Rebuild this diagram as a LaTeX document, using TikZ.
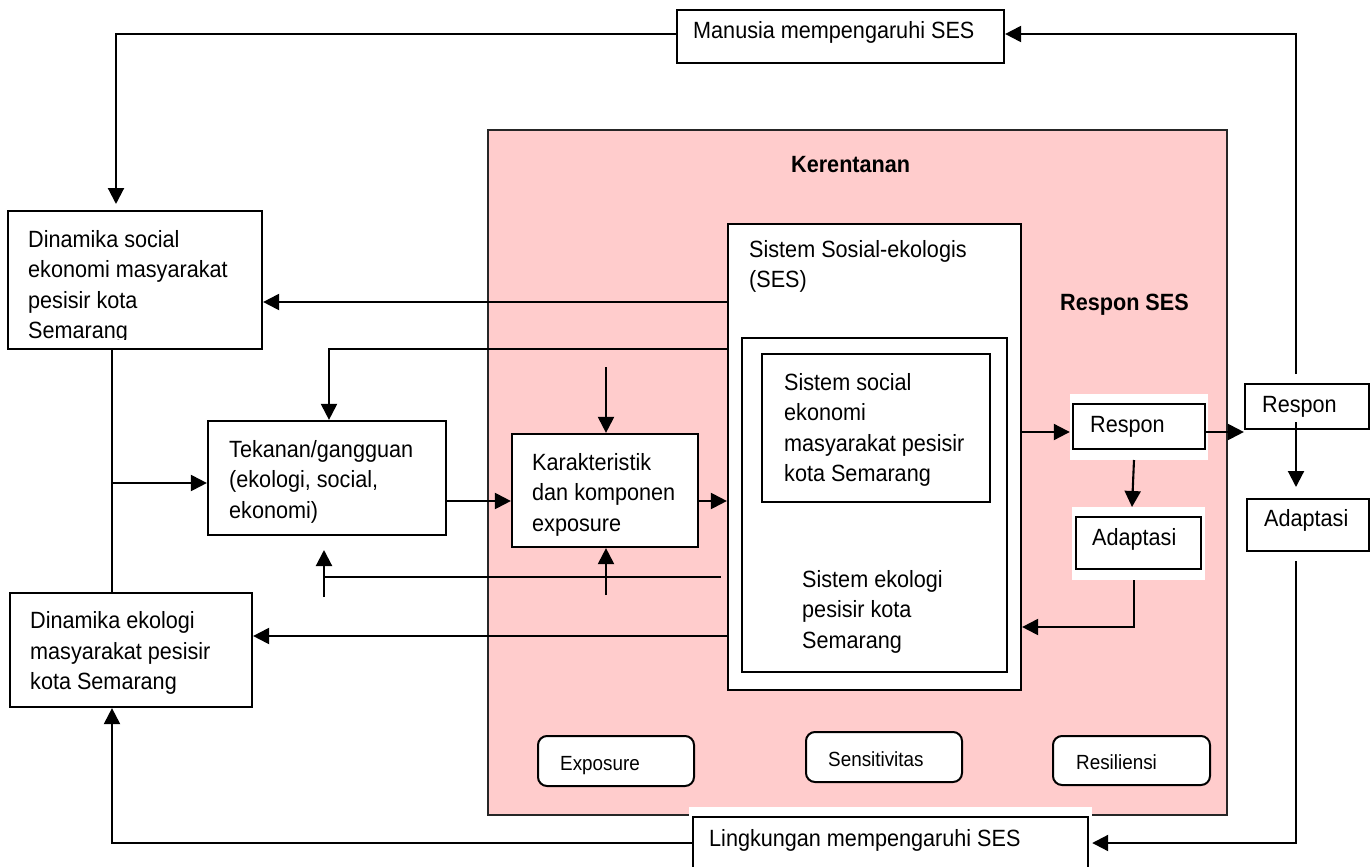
\documentclass[tikz,border=0pt]{standalone}
\usepackage{fontspec}
\setmainfont{Liberation Sans}[FakeStretch=0.92]
\usetikzlibrary{arrows.meta,calc,fit}
\definecolor{pinkbg}{RGB}{255,204,204}
% stacked lines whose reference point is the baseline of the first line
\newcommand\stackedlines[1]{\vtop{\halign{##\hfil\cr #1\crcr}}}
\begin{document}
\begin{tikzpicture}[x=1pt,y=-1pt,
  box/.style={draw=black, line width=2.2pt, fill=white, inner sep=0pt},
  halo/.style={fill=white, draw=none, inner sep=0pt},
  rbox/.style={box, rounded corners=9pt, line width=2pt},
  txt/.style={anchor=base west, inner sep=0pt,
    font=\fontsize{23.5}{30.5}\selectfont},
  small/.style={anchor=base west, inner sep=0pt,
    font=\fontsize{20.5}{24}\selectfont},
  bold/.style={anchor=base west, inner sep=0pt,
    font=\fontsize{23.5}{28}\selectfont\bfseries},
  ln/.style={line width=2.1pt},
  arr/.style={line width=2.1pt, -{Triangle[length=16pt,width=16pt]}},
]
\useasboundingbox (0,0) rectangle (1371,867);
\fill[white] (0,0) rectangle (1371,867);
\clip (0,0) rectangle (1371,867);

% vulnerability frame
\node[draw=black!85, line width=1.8pt, fill=pinkbg, inner sep=0pt,
      fit={(488,130) (1227,815)}] (ker) {};

% white halos behind some boxes
\node[halo, fit={(1070,394) (1208,460)}] (resph) {};
\node[halo, fit={(1072,507) (1205,580)}] (adaph) {};
\node[halo, fit={(689,807) (1092,880)}] (lih) {};

% boxes
\node[box, fit={(677,10) (1004,63)}] (top) {};
\node[box, fit={(8,211) (262,349)}] (ds) {};
\node[box, fit={(208,421) (446,535)}] (tk) {};
\node[box, fit={(512,434) (698,547)}] (ka) {};
\node[box, fit={(10,593) (252,707)}] (de) {};
\node[box, fit={(728,224) (1021,690)}] (ses) {};
\node[box, fit={(742,338) (1007,672)}] (inner) {};
\node[box, fit={(762,354) (990,502)}] (sos) {};
\node[box, fit={(1073,404) (1205,449)}] (resp) {};
\node[box, fit={(1076,517) (1201,569)}] (adap) {};
\node[box, fit={(1245,384) (1369,429)}] (rr) {};
\node[box, fit={(1247,499) (1369,551)}] (ra) {};
\node[box, fit={(693,817) (1088,890)}] (li) {};
\node[rbox, fit={(538,736) (694,786)}] (exp) {};
\node[rbox, fit={(806,732) (962,782)}] (sen) {};
\node[rbox, fit={(1053,736) (1210,785)}] (res) {};

% texts
\node[txt] at (693,39) {Manusia mempengaruhi SES};
\begin{scope}
  \clip (8,211) rectangle (262,339);
  \node[txt] at (28,247) {\stackedlines{Dinamika social\cr ekonomi masyarakat\cr pesisir kota\cr Semarang}};
\end{scope}
\node[txt] at (229,457) {\stackedlines{Tekanan/gangguan\cr (ekologi, social,\cr ekonomi)}};
\node[txt] at (532,470) {\stackedlines{Karakteristik\cr dan komponen\cr exposure}};
\node[txt] at (30,628.5) {\stackedlines{Dinamika ekologi\cr masyarakat pesisir\cr kota Semarang}};
\node[txt] at (749,257) {\stackedlines{Sistem Sosial-ekologis\cr (SES)}};
\node[txt] at (784,390) {\stackedlines{Sistem social\cr ekonomi\cr masyarakat pesisir\cr kota Semarang}};
\node[txt] at (802,587) {\stackedlines{Sistem ekologi\cr pesisir kota\cr Semarang}};
\node[txt] at (1090,432) {Respon};
\node[txt] at (1092,545) {Adaptasi};
\node[txt] at (1262,412) {Respon};
\node[txt] at (1264,526) {Adaptasi};
\node[txt] at (709,846) {Lingkungan mempengaruhi SES};
\node[bold] at (791,172) {Kerentanan};
\node[bold] at (1060,310) {Respon SES};
\node[small] at (560,770) {Exposure};
\node[small] at (828,766) {Sensitivitas};
\node[small] at (1076,769) {Resiliensi};

% helper coordinates
\coordinate (dsin) at (116,204);
\coordinate (xb) at (112,0);
\coordinate (xc) at (329,0);
\coordinate (ytop) at (0,34);
\coordinate (yds) at (0,302);
\coordinate (ytk) at (0,349);
\coordinate (yin) at (0,483);
\coordinate (yka) at (0,501);
\coordinate (yde) at (0,636);
\coordinate (ybot) at (0,843);
\coordinate (yre) at (0,432);
\coordinate (yad) at (0,627);
\coordinate (kin) at (606,367);
\coordinate (kup) at (606,595);
\coordinate (fbA) at (324,577);
\coordinate (fbB) at (721,577);
\coordinate (fbC) at (324,597);
\coordinate (fbD) at (324,550);
\coordinate (jn) at (112,483);
\coordinate (rrtop) at (1296,374);
\coordinate (rrbot) at (1296,422);
\coordinate (raTop) at (1296,487);
\coordinate (raBot) at (1296,561);
\coordinate (rsA) at (1134,460);
\coordinate (rsB) at (1132,507);
\coordinate (adA) at (1134,580);

% connectors
\draw[arr] (top.west |- ytop) -| (dsin);
\draw[arr] (ses.west |- yds) -- (ds.east |- yds);
\draw[arr] (ses.west |- ytk) -| (tk.north -| xc);
\draw[ln] (ds.south -| xb) -- (de.north -| xb);
\draw[arr] (jn) -- (tk.west |- yin);
\draw[arr] (tk.east |- yka) -- (ka.west |- yka);
\draw[arr] (ka.east |- yka) -- (ses.west |- yka);
\draw[arr] (kin) -- (ka.north -| kin);
\draw[arr] (kup) -- (ka.south -| kup);
\draw[ln] (fbA) -- (fbB);
\draw[arr] (fbC) -- (fbD);
\draw[arr] (ses.west |- yde) -- (de.east |- yde);
\draw[arr] (li.west |- ybot) -| (de.south -| xb);
\draw[arr] (ses.east |- yre) -- (resph.west |- yre);
\draw[arr] (rsA) -- (rsB);
\draw[arr] (adA) |- (ses.east |- yad);
\draw[arr] (resp.east |- yre) -- (rr.west |- yre);
\draw[arr] (rrbot) -- (raTop);
\draw[arr] (raBot) |- (lih.east |- ybot);
\draw[arr] (rrtop) |- (top.east |- ytop);
\end{tikzpicture}
\end{document}
